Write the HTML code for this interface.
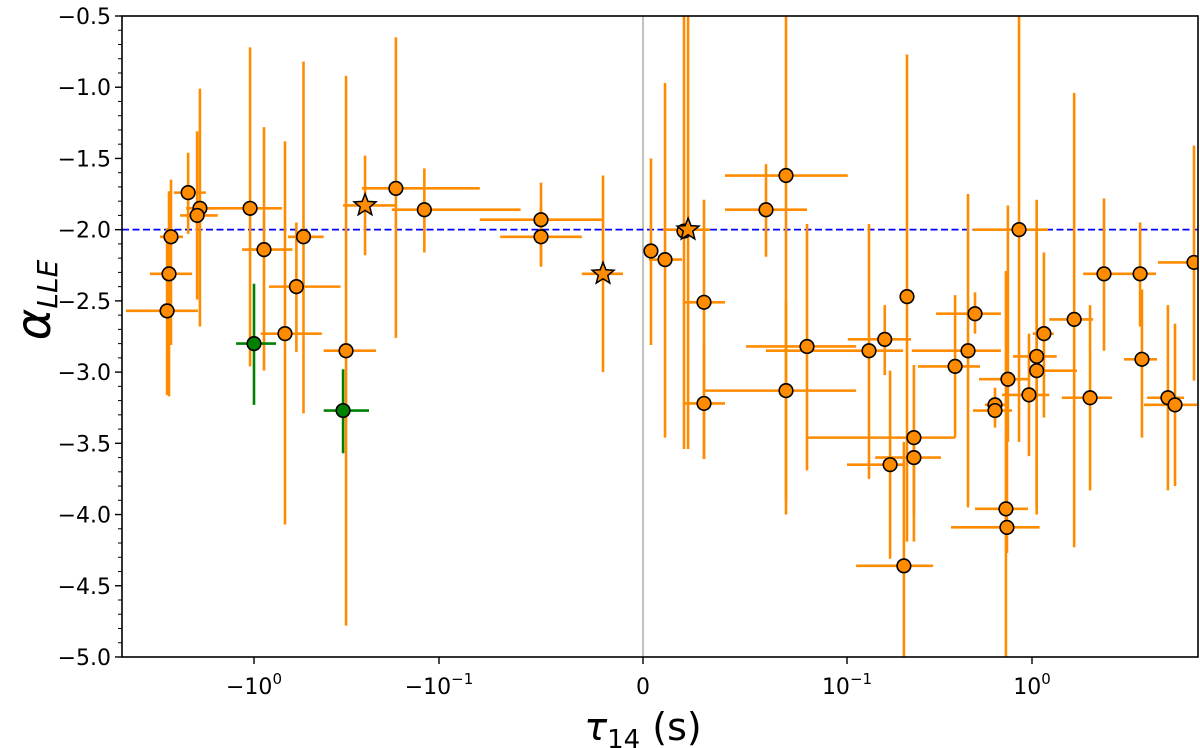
<!DOCTYPE html>
<html><head><meta charset="utf-8"><style>
html,body{margin:0;padding:0;background:#fff;}
svg{display:block;font-family:"DejaVu Sans","Liberation Sans",sans-serif;}
</style></head><body>
<svg id="chart" width="1200" height="748" viewBox="0 0 1200 748" xmlns="http://www.w3.org/2000/svg">
<defs><clipPath id="plotclip"><rect x="122" y="16" width="1076" height="641"/></clipPath></defs>
<rect x="0" y="0" width="1200" height="748" fill="#fff"/>
<g id="marks" clip-path="url(#plotclip)"></g>
<g id="axes"></g>
<text x="643" y="740" text-anchor="middle" font-size="38"><tspan font-style="italic">τ</tspan><tspan font-size="26" dy="8">14</tspan><tspan dy="-8"> (s)</tspan></text>
<text transform="translate(50,300) rotate(-90)" text-anchor="middle" font-size="48"><tspan font-style="italic">α</tspan><tspan font-size="28" font-style="italic" dy="7">LLE</tspan></text>
</svg>
<script>
// data (tau in seconds, alpha)
const tau     = [-2.81,-2.27,-1.96,-2.03,-2.88,-2.95,-1.05,-0.883,-0.68,-0.59,-0.54,-0.318,-0.171,-0.120,-0.050,-0.050,
  0.0039,0.0108,0.0201,0.0299,0.0299,0.0603,0.0701,0.0701,0.0804,0.1315,0.160,0.211,0.171,0.230,0.230,0.203,0.384,0.451,0.492,0.631,0.631,0.741,0.723,0.732,0.851,0.963,1.06,1.06,1.16,1.69,2.06,2.45,3.84,3.93,5.43,5.93,7.51];
const tauLo   = [-3.22,-2.71,-2.33,-2.51,-3.65,-4.92,-1.73,-1.16,-0.92,-0.83,-0.655,-0.42,-0.261,-0.180,-0.080,-0.070,
  0.0015,0.0029,0.0162,0.0201,0.0201,0.0402,0.0402,0.0304,0.0505,0.0603,0.101,0.205,0.100,0.0804,0.142,0.112,0.242,0.224,0.303,0.557,0.480,0.517,0.492,0.365,0.480,0.689,0.963,0.789,1.01,1.24,1.45,1.89,2.95,3.14,4.19,4.03,4.80];
const tauHi   = [-2.42,-1.82,-1.62,-1.57,-2.16,-2.01,-0.706,-0.62,-0.43,-0.34,-0.42,-0.219,-0.080,-0.060,-0.020,-0.030,
  0.0064,0.0191,0.024,0.0402,0.0402,0.0804,0.101,0.112,0.112,0.201,0.222,0.217,0.201,0.384,0.322,0.292,0.524,0.679,0.679,0.715,0.78,0.963,0.951,1.10,1.22,1.24,1.75,1.36,1.31,2.14,2.71,2.99,4.68,4.74,6.63,7.80,8.09];
const alpha   = [-2.05,-1.74,-1.85,-1.90,-2.31,-2.57,-1.85,-2.14,-2.73,-2.40,-2.05,-2.85,-1.71,-1.86,-1.93,-2.05,
  -2.15,-2.21,-2.01,-2.51,-3.22,-1.86,-1.62,-3.13,-2.82,-2.85,-2.77,-2.47,-3.65,-3.46,-3.60,-4.36,-2.96,-2.85,-2.59,-3.23,-3.27,-3.05,-3.96,-4.09,-2.00,-3.16,-2.99,-2.89,-2.73,-2.63,-3.18,-2.31,-2.31,-2.91,-3.18,-3.23,-2.23];
const alphaLo = [-2.81,-2.03,-2.68,-2.49,-3.17,-3.16,-2.96,-2.99,-4.07,-2.86,-3.29,-4.78,-2.76,-2.16,-2.26,-2.25,
  -2.81,-3.46,-3.54,-3.61,-3.61,-2.19,-4.00,-3.90,-3.69,-3.75,-3.02,-4.19,-4.31,-4.00,-4.19,-5.30,-3.46,-3.95,-2.73,-3.39,-3.34,-3.49,-5.30,-4.27,-3.49,-3.59,-4.00,-3.95,-3.32,-4.23,-3.83,-2.85,-2.68,-3.46,-3.83,-3.80,-3.06];
const alphaHi = [-1.65,-1.46,-1.01,-1.31,-1.73,-1.99,-0.72,-1.28,-1.38,-1.95,-0.82,-0.92,-0.65,-1.57,-1.67,-1.84,
  -1.50,-0.97,-0.30,-1.79,-2.80,-1.54,-0.30,-2.50,-1.96,-1.96,-2.53,-0.77,-2.99,-2.95,-3.49,-3.49,-2.46,-1.75,-2.44,-3.11,-3.20,-1.83,-2.29,-2.68,-0.30,-2.73,-1.79,-2.02,-2.16,-1.04,-2.53,-1.78,-1.95,-2.42,-2.53,-2.66,-1.41];
// stars (tau, alpha, errors)
const starTau = [-0.251,-0.0196,0.0221];
const starTauLo = [-0.33,-0.030,0.0098];
const starTauHi = [-0.171,-0.0098,0.0328];
const starAlpha = [-1.83,-2.31,-2.00];
const starAlphaLo = [-2.18,-3.00,-3.54];
const starAlphaHi = [-1.48,-1.62,-0.30];
// green points
const greenTau = [-1.0,-0.33];
const greenTauLo = [-1.25,-0.42];
const greenTauHi = [-0.76,-0.239];
const greenAlpha = [-2.80,-3.27];
const greenAlphaLo = [-3.23,-3.57];
const greenAlphaHi = [-2.38,-2.98];
const yTicks = [-0.5,-1.0,-1.5,-2.0,-2.5,-3.0,-3.5,-4.0,-4.5,-5.0];
const xTicks = [-1,-0.1,0,0.1,1];
const xTickLabels = [["−10","0"],["−10","−1"],["0",""],["10","−1"],["10","0"]];
const refAlpha = -2.0;

const NS="http://www.w3.org/2000/svg";
const L=122,R=1198,T=16,B=657,X0=643;
function X(v){const a=Math.abs(v);if(a<=0.1)return X0+v*2040;return X0+Math.sign(v)*(204+185*Math.log10(a/0.1));}
function Y(v){return T+(-0.5-v)*142.44;}
function mk(tag,attrs,parent){const e=document.createElementNS(NS,tag);for(const k in attrs)e.setAttribute(k,attrs[k]);parent.appendChild(e);return e;}
const marks=document.getElementById('marks'), axes=document.getElementById('axes');

let zl=mk('line',{x1:X(0),x2:X(0),y1:T,y2:B,stroke:'#999','stroke-width':1.2},marks);


let rl=mk('line',{x1:L,x2:R,y1:Y(refAlpha),y2:Y(refAlpha),stroke:'#0000ff','stroke-width':1.8,'stroke-dasharray':'7,3.5'},marks);



function bars(tx,tl,th,ay,al,ah,color,name){
  for(let i=0;i<tx.length;i++){
    const g=mk('g',{},marks);
    
    
    mk('line',{x1:X(tl[i]),x2:X(th[i]),y1:Y(ay[i]),y2:Y(ay[i]),stroke:color,'stroke-width':2.6},g);
    mk('line',{x1:X(tx[i]),x2:X(tx[i]),y1:Y(al[i]),y2:Y(ah[i]),stroke:color,'stroke-width':2.6},g);
  }
}
bars(tau,tauLo,tauHi,alpha,alphaLo,alphaHi,'#ff8c00','grb');
bars(starTau,starTauLo,starTauHi,starAlpha,starAlphaLo,starAlphaHi,'#ff8c00','star');
bars(greenTau,greenTauLo,greenTauHi,greenAlpha,greenAlphaLo,greenAlphaHi,'#008000','green');

for(let i=0;i<tau.length;i++){
  const c=mk('circle',{cx:X(tau[i]),cy:Y(alpha[i]),r:6.8,fill:'#ff8c00',stroke:'#000','stroke-width':1.6},marks);
  
  
}
for(let i=0;i<greenTau.length;i++){
  const c=mk('circle',{cx:X(greenTau[i]),cy:Y(greenAlpha[i]),r:6.8,fill:'#008000',stroke:'#000','stroke-width':1.6},marks);
  
  
}
for(let i=0;i<starTau.length;i++){
  const cx=X(starTau[i]),cy=Y(starAlpha[i]);let d='';
  for(let k=0;k<10;k++){const r=k%2?5:11.5;const a=-Math.PI/2+k*Math.PI/5;d+=(k?'L':'M')+(cx+r*Math.cos(a)).toFixed(1)+','+(cy+r*Math.sin(a)).toFixed(1);}
  const s=mk('path',{d:d+'Z',fill:'#ff8c00',stroke:'#000','stroke-width':1.5},marks);
  
  
}

let fr=mk('rect',{x:L,y:T,width:R-L,height:B-T,fill:'none',stroke:'#000','stroke-width':1.6},axes);


for(let v=-0.5;v>=-5.001;v-=0.1){
  const y=Y(v);
  const isMajor=Math.abs(Math.round(v*10)%5)===0;
  mk('line',{x1:L,x2:L-(isMajor?7:4),y1:y,y2:y,stroke:'#000','stroke-width':isMajor?1.4:1},axes);
}
for(let i=0;i<yTicks.length;i++){
  const t=mk('text',{x:L-11,y:Y(yTicks[i])+8,'text-anchor':'end','font-size':22},axes);
  t.textContent=yTicks[i].toFixed(1).replace('-','−');
  
  
}
for(let i=0;i<xTicks.length;i++){
  const x=X(xTicks[i]);
  mk('line',{x1:x,x2:x,y1:B,y2:B+7,stroke:'#000','stroke-width':1.4},axes);
  const t=mk('text',{x:x,y:B+37,'text-anchor':'middle','font-size':22},axes);
  
  
  const a=document.createElementNS(NS,'tspan');a.textContent=xTickLabels[i][0];t.appendChild(a);
  if(xTickLabels[i][1]){const b=document.createElementNS(NS,'tspan');b.setAttribute('font-size','15');b.setAttribute('dy','-10');b.textContent=xTickLabels[i][1];t.appendChild(b);}
}
</script>
</body></html>
